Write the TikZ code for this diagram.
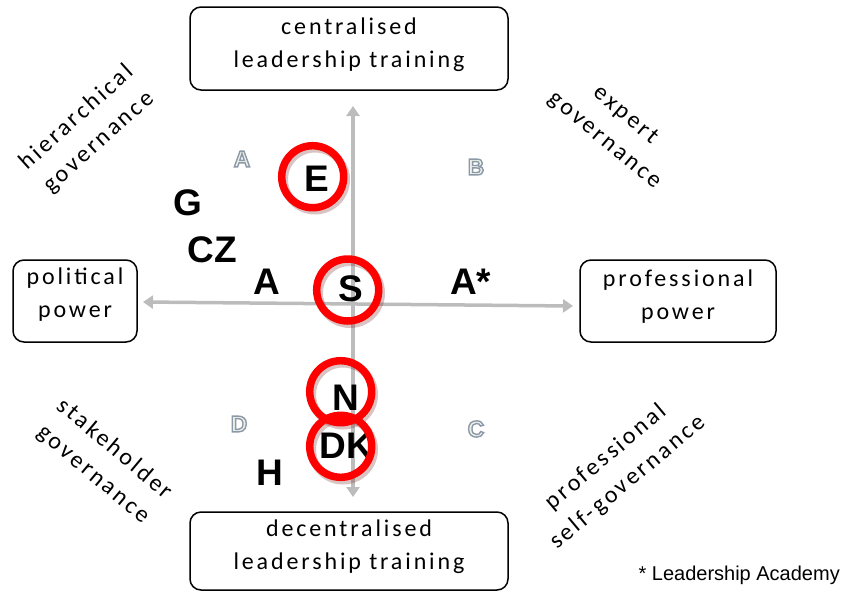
\documentclass[tikz,border=0pt]{standalone}
\usepackage{fontspec}
\newfontfamily\boxfont{Carlito}[LetterSpace=12]
\newfontfamily\arial{Liberation Sans}
\usetikzlibrary{arrows.meta}
\definecolor{axisgray}{RGB}{188,188,188}
\definecolor{ringred}{RGB}{255,0,0}
\definecolor{ringshadow}{RGB}{120,40,40}
\definecolor{qfill}{RGB}{238,240,232}
\newcommand{\boxtext}{\boxfont\fontsize{24}{33}\selectfont}
\newcommand{\qletter}[1]{\textcolor{qfill}{\special{pdf:literal direct 2 Tr 1.4 w 0.55 0.6 0.66 RG}#1\special{pdf:literal direct 0 Tr}}}
\begin{document}
\begin{tikzpicture}[x=1pt,y=-1pt,
  box/.style={draw, line width=1.5pt, rounded corners=11pt, align=center, font=\boxtext, inner sep=0pt},
  diag/.style={align=center, font=\boxtext, inner sep=0pt},
  cc/.style={font=\arial\bfseries\fontsize{37}{37}\selectfont, inner sep=0pt},
  quad/.style={font=\arial\bfseries\fontsize{23}{23}\selectfont, inner sep=0pt},
  ring/.style={draw=ringred, line width=7.5pt, circle, minimum size=62pt, inner sep=0pt},
  ringsh/.style={draw=ringshadow, line width=8pt, circle, minimum size=62pt, inner sep=0pt, opacity=0.28},
  axis/.style={line width=3.5pt, draw=axisgray, {Triangle[width=13pt,length=10pt]}-{Triangle[width=13pt,length=10pt]}}
]
\useasboundingbox (0,0) rectangle (842,592);

% boxes
\node[box, minimum width=318pt, minimum height=83pt, text depth=12pt] (ct) at (349,48.5) {centralised\\leadership training};
\node[box, minimum width=318pt, minimum height=78pt, text depth=12pt] (dt) at (349,551) {decentralised\\leadership training};
\node[box, minimum width=124pt, minimum height=82pt, text depth=17pt] (pp) at (75,301) {political\\power};
\node[box, minimum width=196pt, minimum height=82pt, text depth=13pt] (prp) at (678,301) {professional\\power};

% axes
\coordinate (vtop) at (353,106);
\coordinate (vbot) at (353,497);
\coordinate (hleft) at (143,302);
\coordinate (hright) at (573,306);
\draw[axis] (vbot) -- (vtop);
\draw[axis] (hleft) -- (hright);

% diagonal labels
\node[diag, rotate=42] (hg) at (88,130) {hierarchical\\governance};
\node[diag, rotate=-40] (eg) at (615,128) {expert\\governance};
\node[diag, rotate=-40] (sg) at (104,462) {stakeholder\\governance};
\node[diag, rotate=40] (pg) at (617,470) {professional\\self-governance};

% quadrant letters
\node[quad] (qa) at (242,159) {\qletter{A}};
\node[quad] (qb) at (476,167) {\qletter{B}};
\node[quad] (qd) at (239,424) {\qletter{D}};
\node[quad] (qc) at (476,429) {\qletter{C}};

% country letters
\node[cc] (g) at (188,203) {G};
\node[cc] (cz) at (212.5,249.5) {CZ};
\node[cc] (a) at (267,281.5) {A};
\node[cc, anchor=west] (as) at (450,281.5) {A*};
\node[cc] (e) at (316.5,178.5) {E};
\node[cc] (s) at (350.5,289) {S};
\node[cc] (n) at (345.5,397.5) {N};
\node[cc] (dk) at (346.5,446) {DK};
\node[cc] (h) at (269.5,473) {H};

% rings
\node[ringsh] at (315,179.5) {};
\node[ringsh] at (350,293) {};
\node[ringsh] at (343,449.5) {};
\node[ringsh] at (343,394.5) {};
\node[ring] (re) at (312.7,176.7) {};
\node[ring] (rs) at (347.7,290) {};
\node[ring] (rdk) at (340.7,446.3) {};
\node[ring] (rn) at (340.7,391.7) {};

% footnote
\node[font=\arial\fontsize{20}{20}\selectfont, inner sep=0pt, anchor=base east] (fn) at (840,580) {* Leadership Academy};
\end{tikzpicture}
\end{document}
